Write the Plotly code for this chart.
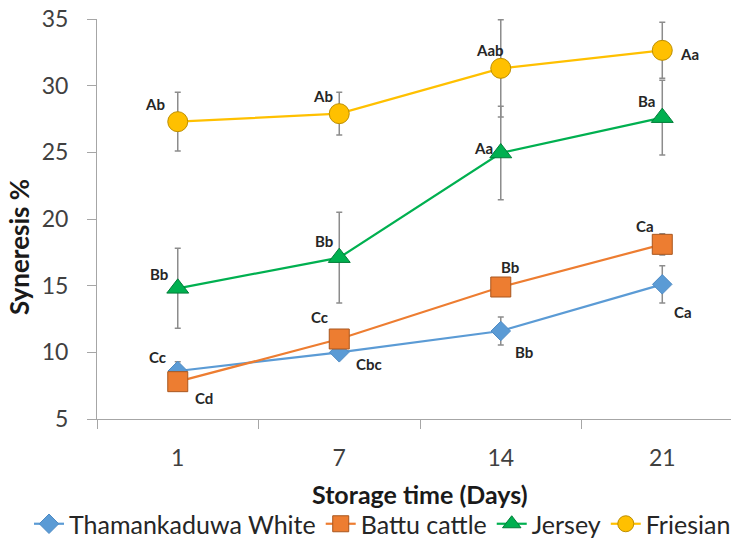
import plotly.graph_objects as go

days = ["1", "7", "14", "21"]
series_names = ["Thamankaduwa White", "Battu cattle", "Jersey", "Friesian"]

thamankaduwa = [8.6, 10.0, 11.6, 15.1]
thamankaduwa_err = [0.7, 0.4, 1.05, 1.4]
battu = [7.8, 11.0, 14.9, 18.1]
battu_err = [0.5, 0.5, 0.5, 0.8]
jersey = [14.8, 17.1, 24.95, 27.6]
jersey_err = [3.0, 3.4, 3.5, 2.8]
friesian = [27.3, 27.9, 31.3, 32.65]
friesian_err = [2.2, 1.6, 3.65, 2.1]

thamankaduwa_lbl = ["Cc", "Cbc", "Bb", "Ca"]
battu_lbl = ["Cd", "Cc", "Bb", "Ca"]
jersey_lbl = ["Bb", "Bb", "Aa", "Ba"]
friesian_lbl = ["Ab", "Ab", "Aab", "Aa"]

FONT = "Lato, 'Open Sans', sans-serif"
xs = list(range(len(days)))

# page body has an 8px margin; figure size compensates
OFF = 8
FW, FH = 739 - OFF, 544 - OFF
# plot-area geometry in page pixels
L, T, W, H = 97 - OFF, 19 - OFF, 642, 400


def px_to_paper(px, py):
    px -= OFF
    py -= OFF
    return (px - L) / W, (T + H - py) / H


styles = [
    dict(name=series_names[0], y=thamankaduwa, e=thamankaduwa_err, color="#5B9BD5",
         symbol="diamond", size=15, border="#4F8BC4"),
    dict(name=series_names[1], y=battu, e=battu_err, color="#ED7D31",
         symbol="square", size=20, border="#A9571F"),
    dict(name=series_names[2], y=jersey, e=jersey_err, color="#00B050",
         symbol="triangle-up", size=19, border="#007D38"),
    dict(name=series_names[3], y=friesian, e=friesian_err, color="#FFC000",
         symbol="circle", size=20, border="#BD8E00"),
]

fig = go.Figure()
for s in styles:
    fig.add_trace(go.Scatter(
        x=xs, y=s["y"], name=s["name"], mode="lines+markers",
        line=dict(color=s["color"], width=2.2),
        marker=dict(symbol=s["symbol"], size=s["size"], color=s["color"],
                    line=dict(color=s["border"], width=1)),
        error_y=dict(type="data", array=s["e"], visible=True,
                     color="#8C8C8C", thickness=1.5, width=3),
    ))

# letter labels: (xshift, yshift) in pixels from the point
label_sets = [
    (thamankaduwa, thamankaduwa_lbl, [(-20, 14), (30, -12), (23, -21), (21, -28)]),
    (battu, battu_lbl, [(26, -16), (-20, 22), (9, 20), (-17, 18)]),
    (jersey, jersey_lbl, [(-19, 14), (-15, 17), (-17, 5), (-16, 17)]),
    (friesian, friesian_lbl, [(-23, 18), (-16, 18), (-11, 18), (27, -4)]),
]
for vals, lbls, shifts in label_sets:
    for i, (v, t, (dx, dy)) in enumerate(zip(vals, lbls, shifts)):
        fig.add_annotation(x=i, y=v, xref="x", yref="y", text=t, showarrow=False,
                           xshift=dx, yshift=dy,
                           font=dict(family=FONT, size=15, color="#262626", weight="bold"))

# axis titles
yx, yy = px_to_paper(19, 247)
fig.add_annotation(text="Syneresis %", textangle=-90, showarrow=False,
                   xref="paper", yref="paper", x=yx, y=yy,
                   xanchor="center", yanchor="middle",
                   font=dict(family=FONT, size=26, color="#1a1a1a", weight="bold"))
tx, ty = px_to_paper(420, 494)
fig.add_annotation(text="Storage time (Days)", showarrow=False,
                   xref="paper", yref="paper", x=tx, y=ty,
                   xanchor="center", yanchor="middle",
                   font=dict(family=FONT, size=25, color="#1a1a1a", weight="bold"))

lgx, lgy = px_to_paper(29, 524)

axis_col = "#A6A6A6"
fig.update_layout(
    width=FW, height=FH,
    margin=dict(l=L, r=FW - L - W, t=T, b=FH - T - H, autoexpand=False),
    plot_bgcolor="white", paper_bgcolor="white",
    font=dict(family=FONT, color="#404040"),
    showlegend=True,
    legend=dict(orientation="h", xref="paper", yref="paper",
                x=lgx, xanchor="left", y=lgy, yanchor="middle",
                font=dict(family=FONT, size=25, color="#262626"),
                itemwidth=30, tracegroupgap=0),
    xaxis=dict(range=[-0.5, 3.475], tickvals=xs, ticktext=days, ticks="",
               showgrid=False, zeroline=False, showline=True, linecolor=axis_col,
               linewidth=1, tickfont=dict(family=FONT, size=23, color="#404040"),
               ticklabelstandoff=18, ticklabeloverflow="allow",
               minor=dict(tick0=-0.5, dtick=1, ticks="outside", ticklen=9,
                          tickcolor=axis_col, showgrid=False)),
    yaxis=dict(range=[5, 35], dtick=5, ticks="outside", ticklen=9, tickcolor=axis_col,
               showgrid=False, zeroline=False, showline=True, linecolor=axis_col,
               linewidth=1, tickfont=dict(family=FONT, size=23, color="#404040"),
               ticklabelstandoff=14, ticklabeloverflow="allow"),
)

fig.write_html("out.html")
